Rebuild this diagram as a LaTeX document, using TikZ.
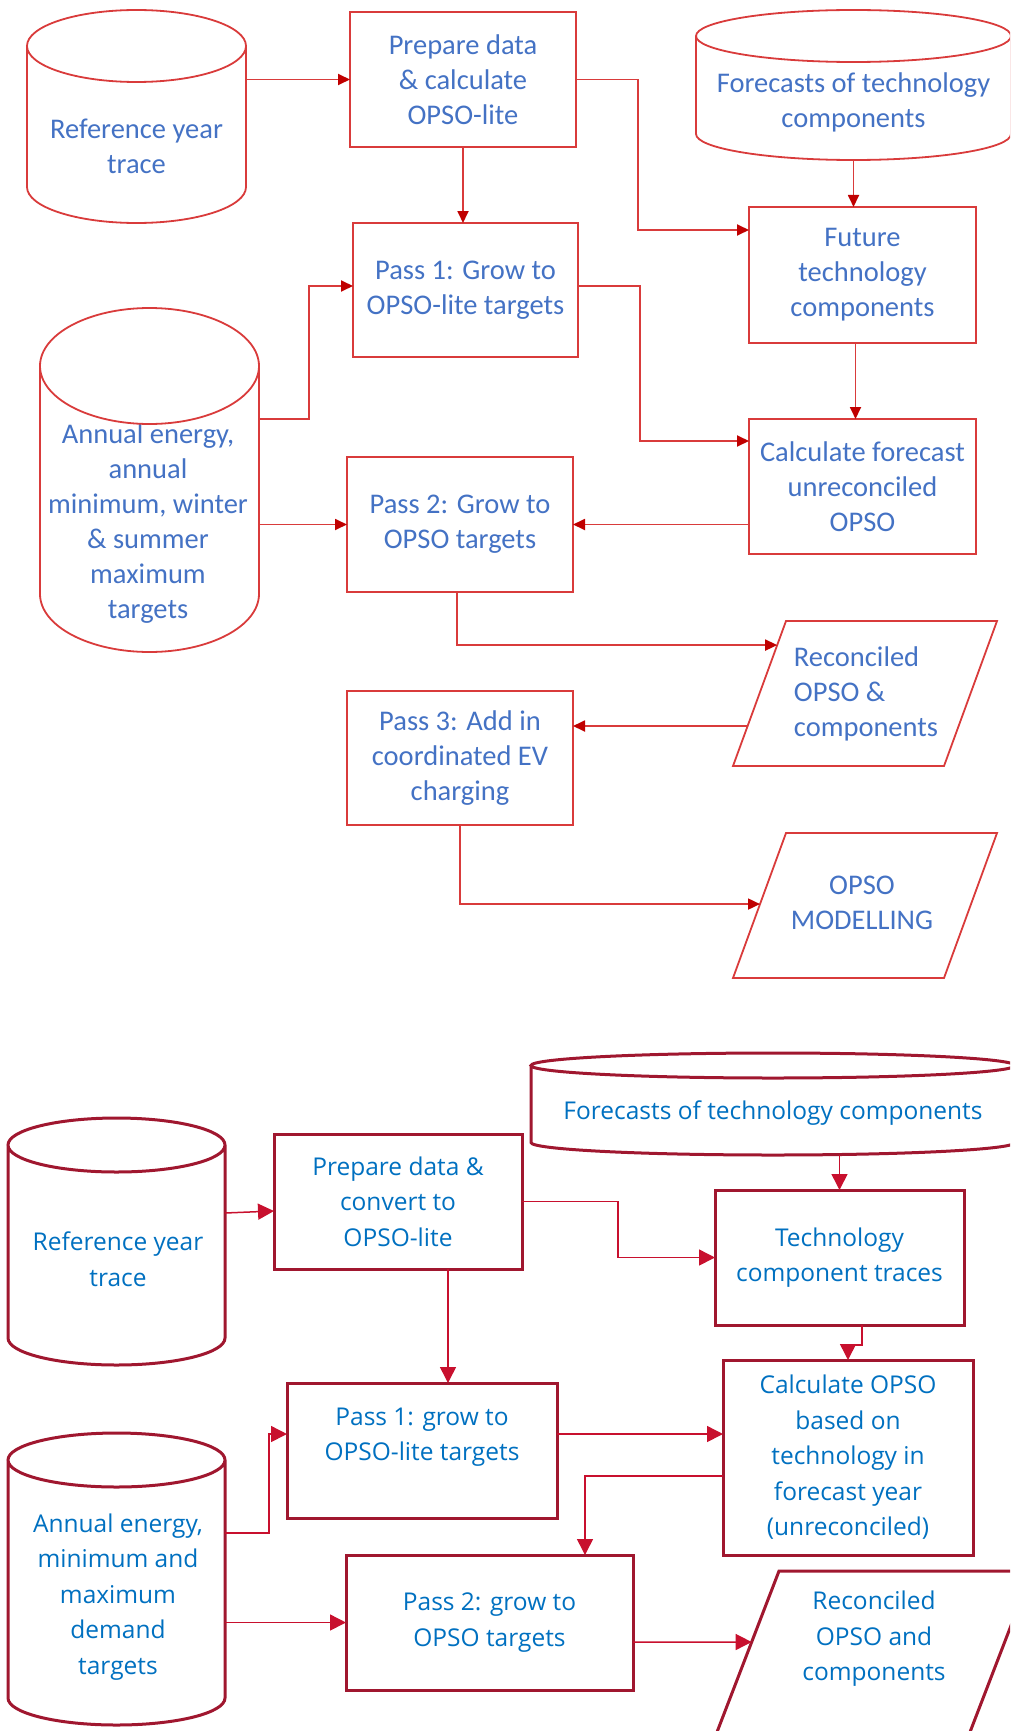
\documentclass[tikz,border=0pt]{standalone}
\usepackage{fontspec}
\newfontfamily\calfont{Carlito}
\newfontfamily\segfont{Open Sans}
\usetikzlibrary{arrows.meta,calc}

\definecolor{redA}{HTML}{D93B3B}
\definecolor{tipA}{HTML}{C00000}
\definecolor{blueA}{HTML}{4472C4}
\definecolor{wineB}{HTML}{A0172F}
\definecolor{redB}{HTML}{C8102E}
\definecolor{blueB}{HTML}{0070C0}

\tikzset{
  area/.style={rectangle, inner sep=0pt, outer sep=0pt},
  txtA/.style={text=blueA, align=center, font=\calfont\fontsize{28.5}{35}\selectfont},
  boxA/.style={area, txtA, draw=redA, line width=1.8pt},
  rimA/.style={draw=redA, line width=1.8pt},
  arrA/.style={rimA, -{Triangle[length=12pt,width=11pt,color=tipA]}},
  txtB/.style={text=blueB, align=center, font=\segfont\fontsize{24.5}{35.5}\selectfont},
  boxB/.style={area, txtB, draw=wineB, line width=3pt},
  rimB/.style={draw=wineB, line width=3pt},
  arrB/.style={draw=redB, line width=1.5pt, -{Triangle[length=16pt,width=16pt,color=redB]}}
}

\begin{document}
\begin{tikzpicture}[x=1pt, y=-1pt]
\useasboundingbox (0,0) rectangle (1010,1731);
\clip (0,0) rectangle (1010,1731);

\node[area, minimum width=219, minimum height=213] (refA) at (136.5,116.5) {};
\node[txtA] (refAt) at (136.5,146) {Reference year\\trace};
\node[area, minimum width=315, minimum height=150] (fcA) at (853.5,85) {};
\node[txtA] (fcAt) at (853.5,102) {Forecasts of technology\\components};
\node[area, minimum width=219, minimum height=344] (annA) at (149.5,480) {};
\node[txtA] (annAt) at (148,524) {Annual energy,\\annual\\minimum, winter\\\& summer\\maximum\\targets};
\foreach \nm/\ry in {refA/36pt, fcA/26pt, annA/58pt}
  \draw[rimA] let \p1=(\nm.north west), \p2=(\nm.south east) in
    ({(\x1+\x2)/2},{\y1-\ry}) ellipse [x radius={(\x2-\x1)/2}, y radius=\ry]
    (\x1,{\y1-\ry}) -- (\x1,{\y2+\ry})
    arc [start angle=180, end angle=360, x radius={(\x2-\x1)/2}, y radius=\ry]
    -- (\x2,{\y1-\ry});

\node[boxA, minimum width=226, minimum height=135] (prepA) at (463,79.5) {Prepare data\\\& calculate\\OPSO-lite};
\node[boxA, minimum width=227, minimum height=136] (futA) at (862.5,275) {Future\\technology\\components};
\node[boxA, minimum width=225, minimum height=134] (pass1A) at (465.5,290) {Pass 1: Grow to\\OPSO-lite targets};
\node[boxA, minimum width=227, minimum height=135] (calcA) at (862.5,486.5) {Calculate forecast\\unreconciled\\OPSO};
\node[boxA, minimum width=226, minimum height=135] (pass2A) at (460,524.5) {Pass 2: Grow to\\OPSO targets};
\node[boxA, minimum width=226, minimum height=134] (pass3A) at (460,758) {Pass 3: Add in\\coordinated EV\\charging};
\node[area, minimum width=264, minimum height=145] (recA) at (865,693.5) {};
\node[txtA, align=left] (recAt) at (866,693.5) {Reconciled\\OPSO \&\\components};
\node[area, minimum width=264, minimum height=145] (opsoA) at (865,905.5) {};
\node[txtA] (opsoAt) at (862,903) {OPSO\\MODELLING};
\foreach \nm in {recA, opsoA}
  \draw[rimA] ([xshift=53]\nm.north west) -- (\nm.north east) -- ([xshift=-53]\nm.south east) -- (\nm.south west) -- cycle;

\draw[arrA] (refA.east |- prepA.west) -- (prepA.west);
\draw[arrA] (prepA.east) -- ++(62,0) |- ([yshift=45]futA.west);
\draw[arrA] (prepA.south) -- (prepA.south |- pass1A.north);
\draw[arrA] (fcA.south) -- (fcA.south |- futA.north);
\draw[arrA] ([xshift=-7]futA.south) -- ([xshift=-7]calcA.north);
\draw[arrA] ([yshift=61]annA.east) -- ++(50,0) |- ([yshift=4]pass1A.west);
\draw[arrA] ([yshift=4]pass1A.east) -- ++(62,0) |- ([yshift=45.5]calcA.west);
\draw[arrA] (annA.east |- pass2A.west) -- (pass2A.west);
\draw[arrA] (calcA.west |- pass2A.east) -- (pass2A.east);
\draw[arrA] ([xshift=-3]pass2A.south) |- ($([xshift=53]recA.north west)!0.166!(recA.south west)$);
\draw[arrA] ($([xshift=53]recA.north west)!0.724!(recA.south west)$) -- ([yshift=32]pass3A.east);
\draw[arrA] (pass3A.south) |- ($([xshift=53]opsoA.north west)!0.49!(opsoA.south west)$);

\node[area, minimum width=484, minimum height=102] (fcB) at (773,1104) {};
\node[txtB] (fcBt) at (773,1113) {Forecasts of technology components};
\node[area, minimum width=217, minimum height=247] (refB) at (116.5,1241.5) {};
\node[txtB] (refBt) at (118,1259) {Reference year\\trace};
\node[area, minimum width=217, minimum height=292] (annB) at (116.5,1579) {};
\node[txtB] (annBt) at (118,1597) {Annual energy,\\minimum and\\maximum\\demand\\targets};
\foreach \nm/\ry in {fcB/12.5pt, refB/27pt, annB/27pt}
  \draw[rimB] let \p1=(\nm.north west), \p2=(\nm.south east) in
    ({(\x1+\x2)/2},{\y1-\ry}) ellipse [x radius={(\x2-\x1)/2}, y radius=\ry]
    (\x1,{\y1-\ry}) -- (\x1,{\y2+\ry})
    arc [start angle=180, end angle=360, x radius={(\x2-\x1)/2}, y radius=\ry]
    -- (\x2,{\y1-\ry});

\node[boxB, minimum width=248, minimum height=135] (prepB) at (398,1201.5) {Prepare data \&\\convert to\\OPSO-lite};
\node[boxB, minimum width=249, minimum height=135] (techB) at (839.5,1257.5) {Technology\\component traces};
\node[boxB, minimum width=250, minimum height=195] (calcB) at (848,1457.5) {Calculate OPSO\\based on\\technology in\\forecast year\\(unreconciled)};
\node[boxB, minimum width=270, minimum height=135] (pass1B) at (422,1450.5) {};
\node[txtB] (pass1Bt) at (422,1437) {Pass 1: grow to\\OPSO-lite targets};
\node[boxB, minimum width=287, minimum height=135] (pass2B) at (489.5,1622.5) {Pass 2: grow to\\OPSO targets};
\node[area, minimum width=330, minimum height=200] (recB) at (867,1671) {};
\node[txtB] (recBt) at (874,1639) {Reconciled\\OPSO and\\components};
\draw[rimB] ([xshift=77]recB.north west) -- (recB.north east) -- ([xshift=-77]recB.south east) -- (recB.south west) -- cycle;

\draw[arrB] ([yshift=28.5]refB.east) -- ([yshift=-9.5]prepB.west);
\draw[arrB] (prepB.east) -- ++(96,0) |- (techB.west);
\draw[arrB] (fcB.south -| techB.north) -- (techB.north);
\draw[arrB] ([xshift=50]prepB.south) -- ([xshift=50]prepB.south |- pass1B.north);
\draw[arrB] ([xshift=22.5]techB.south) -- ++(0,20) -| (calcB.north);
\draw[arrB] ([yshift=46]annB.east) -- ++(44,0) |- ([yshift=16.5]pass1B.west);
\draw[arrB] ([yshift=16.5]pass1B.east) -- ([yshift=16.5]pass1B.east -| calcB.west);
\draw[arrB] ([yshift=-18.5]calcB.west) -| ([xshift=95.5]pass2B.north);
\draw[arrB] (annB.east |- pass2B.west) -- (pass2B.west);
\draw[arrB] ([yshift=-19.5]pass2B.east) -- ($([xshift=77]recB.north west)!0.355!(recB.south west)$);
\end{tikzpicture}
\end{document}
